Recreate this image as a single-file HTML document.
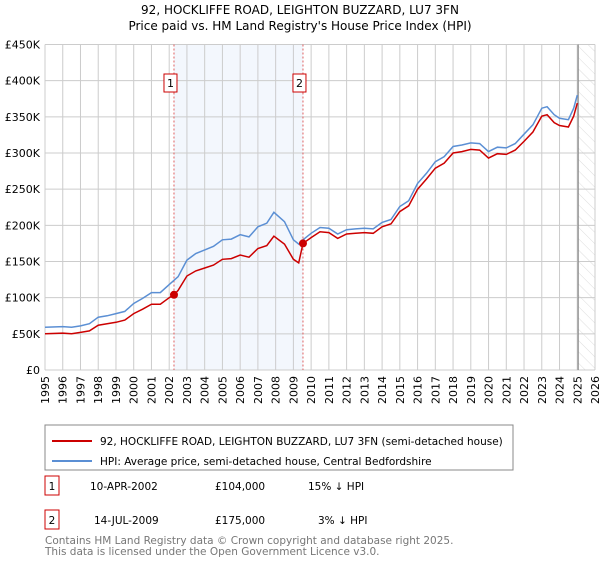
<!DOCTYPE html>
<html><head><meta charset="utf-8"><style>
body{margin:0;background:#fff;font-family:"Liberation Sans","DejaVu Sans",sans-serif;}
svg text{font-family:"DejaVu Sans","Liberation Sans",sans-serif;}
</style></head><body>
<svg id="c" width="600" height="560" xmlns="http://www.w3.org/2000/svg">
<defs><pattern id="hatch" width="8" height="8" patternUnits="userSpaceOnUse" patternTransform="rotate(-45)"><line x1="0" y1="0" x2="0" y2="8" stroke="#d4d4d4" stroke-width="0.8"/></pattern></defs>
<text x="300" y="14" text-anchor="middle" font-size="12">92, HOCKLIFFE ROAD, LEIGHTON BUZZARD, LU7 3FN</text>
<text x="300" y="30" text-anchor="middle" font-size="12">Price paid vs. HM Land Registry's House Price Index (HPI)</text>
<g id="plot"></g>
<rect x="45" y="425" width="468" height="45" fill="#fff" stroke="#888"/>
<line x1="52" y1="441" x2="92" y2="441" stroke="#cc0000" stroke-width="2"/>
<text x="100" y="445" font-size="10.5">92, HOCKLIFFE ROAD, LEIGHTON BUZZARD, LU7 3FN (semi-detached house)</text>
<line x1="52" y1="461" x2="92" y2="461" stroke="#5b8fd4" stroke-width="2"/>
<text x="100" y="465" font-size="10.5">HPI: Average price, semi-detached house, Central Bedfordshire</text>
<g font-size="10.5">
<rect x="45" y="476" width="14" height="19" fill="#fff" stroke="#cc0000"/><text x="52" y="490" text-anchor="middle">1</text>
<text x="90" y="490">10-APR-2002</text><text x="215" y="490">£104,000</text><text x="308" y="490">15% ↓ HPI</text>
<rect x="45" y="510" width="14" height="19" fill="#fff" stroke="#cc0000"/><text x="52" y="524" text-anchor="middle">2</text>
<text x="94" y="524">14-JUL-2009</text><text x="215" y="524">£175,000</text><text x="318" y="524">3% ↓ HPI</text>
</g>
<text x="45" y="544" font-size="10.5" fill="#777">Contains HM Land Registry data © Crown copyright and database right 2025.</text>
<text x="45" y="555" font-size="10.5" fill="#777">This data is licensed under the Open Government Licence v3.0.</text>
</svg>
<script>
const hpiYears=[1995,1996,1996.5,1997,1997.5,1998,1998.5,1999,1999.5,2000,2000.5,2001,2001.5,2002,2002.27,2002.5,2003,2003.5,2004,2004.5,2005,2005.5,2006,2006.5,2007,2007.5,2007.9,2008.5,2009,2009.3,2009.54,2010,2010.5,2011,2011.5,2012,2012.5,2013,2013.5,2014,2014.5,2015,2015.5,2016,2016.5,2017,2017.5,2018,2018.5,2019,2019.5,2020,2020.5,2021,2021.5,2022,2022.5,2023,2023.3,2023.7,2024,2024.5,2024.8,2025.0];
const hpiValues=[59,60,59,61,64,73,75,78,81,92,99,107,107,118,124,129,152,161,166,171,180,181,187,184,198,203,218,205,180,174,180,189,197,196,188,194,195,196,195,204,208,226,234,258,272,288,295,309,311,314,313,302,308,307,313,326,339,362,364,353,348,346,362,380];
const priceValues=[50,51,50,52,54,62,64,66,69,78,84,91,91,100,104,110,130,137,141,145,153,154,159,156,168,172,185,174,153,148,175,183,191,190,182,188,189,190,189,198,202,219,227,250,264,279,286,300,302,305,304,293,299,298,304,316,329,351,353,342,338,336,351,369];
const yTicks=[0,50,100,150,200,250,300,350,400,450];
const yTickLabels=["£0","£50K","£100K","£150K","£200K","£250K","£300K","£350K","£400K","£450K"];
const saleYears=[2002.27,2009.54];
const salePrices=[104,175];
const saleLabels=["1","2"];
const X0=45,X1=595,Y0=370,Y1=44.5,yr0=1995,yr1=2026,vmax=450;
const xs=y=>X0+(y-yr0)/(yr1-yr0)*(X1-X0);
const ys=v=>Y0-v/vmax*(Y0-Y1);
const NS="http://www.w3.org/2000/svg";
const g=document.getElementById('plot');
function mk(t,a){const e=document.createElementNS(NS,t);for(const k in a)e.setAttribute(k,a[k]);g.appendChild(e);return e;}
let e=mk('rect',{x:X0,y:Y1,width:X1-X0,height:Y0-Y1,fill:'#fff'});


e=mk('rect',{x:xs(saleYears[0]),y:Y1,width:xs(saleYears[1])-xs(saleYears[0]),height:Y0-Y1,fill:'#eef3fc',opacity:0.7});


e=mk('rect',{x:xs(2025.05),y:Y1,width:X1-xs(2025.05),height:Y0-Y1,fill:'url(#hatch)'});


for(let y=yr0;y<=yr1;y++){
 e=mk('line',{x1:xs(y),x2:xs(y),y1:Y1,y2:Y0,stroke:'#ccc','stroke-width':1});
 
 
 const t=mk('text',{x:0,y:0,'font-size':11,'text-anchor':'end',transform:`translate(${xs(y)+4},376) rotate(-90)`});
 t.textContent=y;
 
 
}
yTicks.forEach((v,i)=>{
 e=mk('line',{x1:X0,x2:X1,y1:ys(v),y2:ys(v),stroke:'#ccc','stroke-width':1});
 
 
 const t=mk('text',{x:40,y:ys(v)+4,'font-size':11,'text-anchor':'end'});
 t.textContent=yTickLabels[i];
 
 
});
e=mk('line',{x1:xs(2025.05),x2:xs(2025.05),y1:Y1,y2:Y0,stroke:'#888','stroke-width':1.2});


saleYears.forEach((s,i)=>{
 e=mk('line',{x1:xs(s),x2:xs(s),y1:Y1,y2:Y0,stroke:'#e06060','stroke-width':1,'stroke-dasharray':'2,2'});
 
 
 e=mk('rect',{x:xs(s)-10,y:74,width:13,height:18,fill:'#fff',stroke:'#cc0000'});
 
 
 const t=mk('text',{x:xs(s)-3.5,y:87,'font-size':11,'text-anchor':'middle'});
 t.textContent=saleLabels[i];
 
 
});
const path=(vals)=>vals.map((v,i)=>(i?'L':'M')+xs(hpiYears[i]).toFixed(1)+','+ys(v).toFixed(1)).join('');
e=mk('path',{d:path(hpiValues),fill:'none',stroke:'#5b8fd4','stroke-width':1.5});


e=mk('path',{d:path(priceValues),fill:'none',stroke:'#cc0000','stroke-width':1.5});


saleYears.forEach((s,i)=>{
 e=mk('circle',{cx:xs(s),cy:ys(salePrices[i]),r:4,fill:'#cc0000'});
 
 
});
</script>
</body></html>
